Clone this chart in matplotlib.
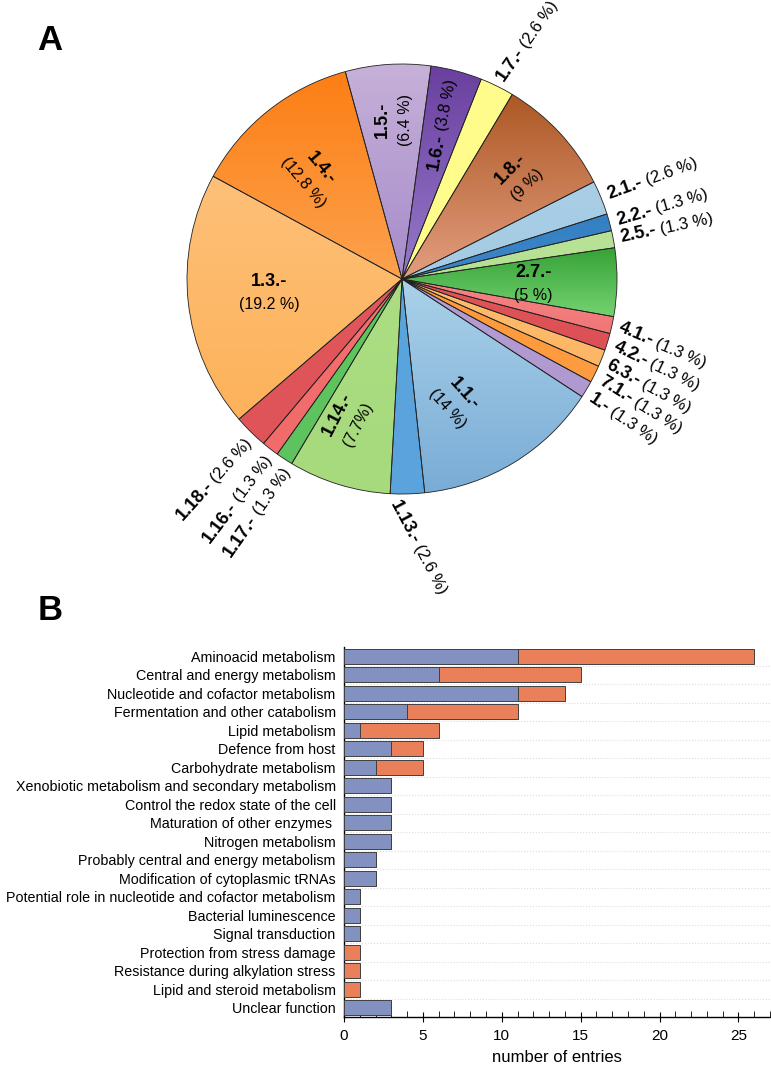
import numpy as np
import matplotlib
matplotlib.use("Agg")
import matplotlib.pyplot as plt
from matplotlib.colors import to_rgb

plt.rcParams['font.family'] = ['Liberation Sans', 'DejaVu Sans']

# ---- panel A data (EC classes, number of entries out of 78) ----
ec_names = ['1.5.-', '1.6.-', '1.7.-', '1.8.-', '2.1.-', '2.2.-', '2.5.-', '2.7.-',
            '4.1.-', '4.2.-', '6.3.-', '7.1.-', '1.-', '1.1.-', '1.13.-', '1.14.-',
            '1.17.-', '1.16.-', '1.18.-', '1.3.-', '1.4.-']
ec_counts = [5, 3, 2, 7, 2, 1, 1, 4, 1, 1, 1, 1, 1, 11, 2, 6, 1, 1, 2, 15, 10]
ec_pct = ['(6.4 %)', '(3.8 %)', '(2.6 %)', '(9 %)', '(2.6 %)', '(1.3 %)', '(1.3 %)', '(5 %)',
          '(1.3 %)', '(1.3 %)', '(1.3 %)', '(1.3 %)', '(1.3 %)', '(14 %)', '(2.6 %)', '(7.7%)',
          '(1.3 %)', '(1.3 %)', '(2.6 %)', '(19.2 %)', '(12.8 %)']
col_top = ['#c6b1d8', '#6a3f9f', '#fffc8c', '#ad5824', '#a9cee6', '#3480c3', '#b9e297', '#37a237',
           '#f58383', '#e0545a', '#fdbc6c', '#fd9a3a', '#b59dd4', '#aad1e9', '#5aa5df', '#acdd83',
           '#5ec55e', '#f56f6f', '#e0565a', '#fdc078', '#fd7e14']
col_bot = ['#a68bcb', '#957aca', '#fffc8c', '#e39e80', '#a5cbe4', '#3a86c8', '#b5e093', '#74d371',
           '#f07676', '#dd5055', '#fdb666', '#fd9c40', '#b098d0', '#79acd6', '#5aa3dd', '#a6da7c',
           '#5ec35e', '#f26b6b', '#de5458', '#fdb25a', '#fca24e']

# ---- panel B data ----
functions = ['Aminoacid metabolism', 'Central and energy metabolism',
             'Nucleotide and cofactor metabolism', 'Fermentation and other catabolism',
             'Lipid metabolism', 'Defence from host', 'Carbohydrate metabolism',
             'Xenobiotic metabolism and secondary metabolism',
             'Control the redox state of the cell', 'Maturation of other enzymes ',
             'Nitrogen metabolism', 'Probably central and energy metabolism',
             'Modification of cytoplasmic tRNAs',
             'Potential role in nucleotide and cofactor metabolism',
             'Bacterial luminescence', 'Signal transduction',
             'Protection from stress damage', 'Resistance during alkylation stress',
             'Lipid and steroid metabolism', 'Unclear function']
blue_vals = [11, 6, 11, 4, 1, 3, 2, 3, 3, 3, 3, 2, 2, 1, 1, 1, 0, 0, 0, 3]
orange_vals = [15, 9, 3, 7, 5, 2, 3, 0, 0, 0, 0, 0, 0, 0, 0, 0, 1, 1, 1, 0]

W, H = 771, 1067
fig = plt.figure(figsize=(W / 100, H / 100), dpi=100)

# ================= panel A : pie =================
cx, cy, R = 402, 279, 215          # pixel centre / radius
top_h = 600
ax = fig.add_axes([0, 1 - top_h / H, 1, top_h / H])
wedges, _ = ax.pie(ec_counts, colors=col_top, startangle=105.3, counterclock=False,
                   wedgeprops=dict(edgecolor='#222222', linewidth=0.6))

# vertical gradient inside every slice
for w, ct, cb in zip(wedges, col_top, col_bot):
    bb = w.get_path().get_extents()
    t = np.linspace(0, 1, 200)[:, None, None]
    arr = (1 - t) * np.array(to_rgb(ct)) + t * np.array(to_rgb(cb))
    im = ax.imshow(arr, extent=[bb.x0, bb.x1, bb.y0, bb.y1], origin='upper',
                   aspect='auto', zorder=1, interpolation='bilinear')
    im.set_clip_path(w)
    w.set_facecolor('none')
    w.set_zorder(2)

ax.set_xlim(-cx / R, (W - cx) / R)
ax.set_ylim(-(top_h - cy) / R, cy / R)
ax.set_aspect('auto')
ax.axis('off')

fig.canvas.draw()
renderer = fig.canvas.get_renderer()


def text_width(s, **kw):
    t = ax.text(0, 0, s, **kw)
    wd = t.get_window_extent(renderer).width
    t.remove()
    return wd / R


def mid_angle(w):
    return np.deg2rad((w.theta1 + w.theta2) / 2)


# inner labels: name -> (radius, rotation, two lines?)
inner = {'1.5.-': (0.74, 90, True), '1.6.-': (0.74, 79, False), '1.8.-': (0.72, 45, True),
         '2.7.-': (0.61, 0, True), '1.1.-': (0.62, -48, True), '1.14.-': (0.70, 63, True),
         '1.3.-': (0.62, 0, True), '1.4.-': (0.64, -50, True)}
inner_ang = {'1.5.-': 93, '1.8.-': 41, '2.7.-': -2, '1.1.-': -66, '1.14.-': -111,
             '1.3.-': 186, '1.4.-': 131}
# outer labels: name -> (rotation, reads outward?, angle override)
outer = {'1.7.-': (55, True, None), '2.1.-': (20, True, None), '2.2.-': (16, True, None),
         '2.5.-': (12, True, None), '4.1.-': (-23, True, -12.5), '4.2.-': (-26, True, -17.4),
         '6.3.-': (-29, True, -22.5), '7.1.-': (-32, True, -27), '1.-': (-34, True, -32),
         '1.13.-': (-62, True, -92), '1.17.-': (55, False, -121), '1.16.-': (53, False, -126.6),
         '1.18.-': (48, False, -133.3)}

bold_kw = dict(fontsize=13, fontweight='bold')
pct_kw = dict(fontsize=11.5)
obold_kw = dict(fontsize=13, fontweight='bold')
opct_kw = dict(fontsize=12)

for w, name, pct in zip(wedges, ec_names, ec_pct):
    if name in inner:
        r, rot, two = inner[name]
        a = np.deg2rad(inner_ang[name]) if name in inner_ang else mid_angle(w)
        px, py = r * np.cos(a), r * np.sin(a)
        ux, uy = np.cos(np.deg2rad(rot)), np.sin(np.deg2rad(rot))
        nx, ny = -uy, ux
        if two:
            d = 11.5 / R
            ax.text(px + nx * d, py + ny * d, name, rotation=rot, ha='center', va='center',
                    rotation_mode='anchor', zorder=5, **bold_kw)
            ax.text(px - nx * d, py - ny * d, pct, rotation=rot, ha='center', va='center',
                    rotation_mode='anchor', zorder=5, **pct_kw)
        else:
            wb = text_width(name, **bold_kw)
            wp = text_width(pct, **pct_kw)
            gap = 4 / R
            tot = wb + gap + wp
            sx, sy = px - ux * tot / 2, py - uy * tot / 2
            ax.text(sx, sy, name, rotation=rot, ha='left', va='center',
                    rotation_mode='anchor', zorder=5, **bold_kw)
            ax.text(sx + ux * (wb + gap), sy + uy * (wb + gap), pct, rotation=rot,
                    ha='left', va='center', rotation_mode='anchor', zorder=5, **pct_kw)
    elif name in outer:
        rot, outward, ang = outer[name]
        a = np.deg2rad(ang) if ang is not None else mid_angle(w)
        r0 = 1.035
        px, py = r0 * np.cos(a), r0 * np.sin(a)
        ux, uy = np.cos(np.deg2rad(rot)), np.sin(np.deg2rad(rot))
        gap = 4 / R
        if outward:
            wb = text_width(name, **obold_kw)
            ax.text(px, py, name, rotation=rot, ha='left', va='center',
                    rotation_mode='anchor', zorder=5, **obold_kw)
            ax.text(px + ux * (wb + gap), py + uy * (wb + gap), pct, rotation=rot,
                    ha='left', va='center', rotation_mode='anchor', zorder=5, **opct_kw)
        else:
            wp = text_width(pct, **opct_kw)
            ax.text(px, py, pct, rotation=rot, ha='right', va='center',
                    rotation_mode='anchor', zorder=5, **opct_kw)
            ax.text(px - ux * (wp + gap), py - uy * (wp + gap), name, rotation=rot,
                    ha='right', va='center', rotation_mode='anchor', zorder=5, **obold_kw)

fig.text(50 / W, 1 - 41 / H, 'A', fontsize=25, fontweight='bold', ha='center', va='center')
fig.text(50 / W, 1 - 611 / H, 'B', fontsize=25, fontweight='bold', ha='center', va='center')

# ================= panel B : stacked bars =================
ax2 = fig.add_axes([344 / W, 1 - 1017 / H, (770 - 344) / W, (1017 - 647) / H])
y = np.arange(len(functions))
ax2.barh(y, blue_vals, height=0.8, color='#8391c0', edgecolor='#404040', linewidth=0.7, zorder=3)
ax2.barh(y, orange_vals, left=blue_vals, height=0.8, color='#e9805a', edgecolor='#404040',
         linewidth=0.7, zorder=3)

ax2.set_xlim(0, 27)
ax2.set_ylim(len(functions) - 0.5, -0.5)
ax2.set_yticks(y)
ax2.set_yticklabels(functions, fontsize=10.25)
ax2.set_yticks(np.arange(0.5, len(functions) - 0.5, 1), minor=True)
ax2.tick_params(axis='y', which='both', length=0, pad=6)
ax2.grid(which='minor', axis='y', color='#dddddd', linestyle=':', linewidth=0.8, zorder=0)
ax2.set_xticks(np.arange(0, 26, 5))
ax2.set_xticks(np.arange(0, 28, 1), minor=True)
ax2.tick_params(axis='x', which='major', direction='inout', length=7, labelsize=11, pad=5)
ax2.tick_params(axis='x', which='minor', direction='in', length=4)
for s in ['top', 'right']:
    ax2.spines[s].set_visible(False)
ax2.spines['left'].set_linewidth(1.0)
ax2.spines['bottom'].set_linewidth(1.0)
ax2.set_xlabel('number of entries', fontsize=12, labelpad=5)

fig.savefig('out.png', dpi=100)
